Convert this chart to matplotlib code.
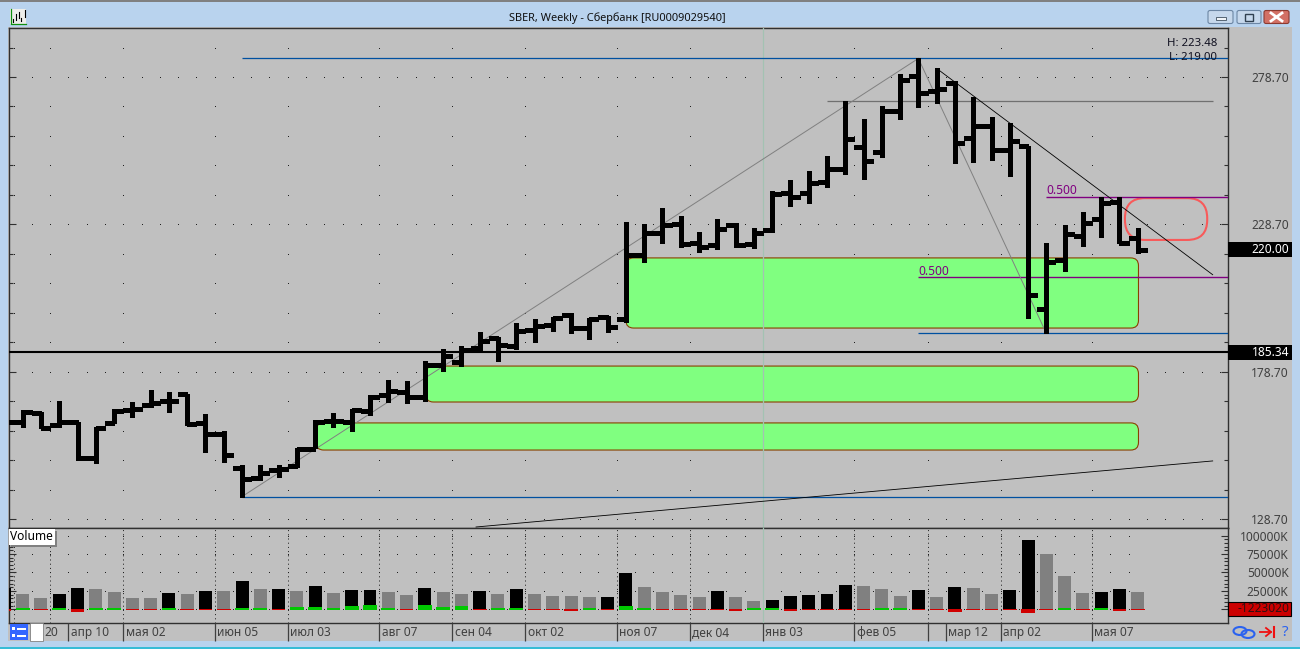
import numpy as np
import matplotlib
matplotlib.use("Agg")
import matplotlib.pyplot as plt
from matplotlib.patches import FancyBboxPatch, Rectangle, Ellipse

plt.rcParams['font.family'] = ['Noto Sans', 'DejaVu Sans']

# weekly bars, index = week number
highs = [164.0,165.7,164.9,168.7,161.7,160.0,165.9,168.5,172.5,171.9,171.1,164.2,158.7,147.0,147.0,147.0,
         152.7,162.3,164.8,165.9,170.8,175.9,175.5,182.3,186.3,187.5,192.3,190.4,195.1,196.5,197.4,198.5,
         196.8,197.7,229.4,228.8,234.1,231.5,226.1,230.4,229.0,227.3,239.9,243.7,246.8,251.9,270.6,264.4,
         268.9,279.7,285.0,281.6,277.3,272.0,265.0,263.2,255.4,222.5,228.5,232.8,238.1,238.1,227.3]
lows = [159.6,160.0,159.5,160.0,148.7,147.6,161.2,163.4,166.8,164.9,160.6,151.5,148.1,136.3,141.9,142.8,
        146.2,152.7,159.8,158.7,164.0,168.5,168.2,168.7,179.0,180.7,185.7,182.4,186.3,188.9,192.6,191.7,
        189.9,192.3,195.4,215.8,222.3,220.9,219.2,220.3,221.1,220.8,226.2,235.0,236.0,241.5,245.8,244.1,
        251.7,264.4,268.6,270.0,249.6,249.9,250.5,245.2,197.0,191.7,213.0,221.4,224.5,222.3,219.1]
opens = [162.3,161.5,164.6,160.6,161.7,149.3,161.4,165.7,167.4,168.8,171.1,161.4,157.5,145.9,142.5,145.3,
         146.7,152.5,162.0,161.7,165.4,170.8,171.9,170.2,181.0,181.9,186.6,190.0,187.4,192.8,194.5,197.9,
         193.6,197.1,196.6,218.3,225.9,228.7,222.3,221.8,228.5,221.9,226.8,239.2,239.2,243.1,247.6,255.0,
         253.3,267.3,279.1,274.0,276.6,258.1,262.1,253.9,255.4,199.9,216.6,224.8,230.5,236.4,223.9]
closes = [161.5,164.9,159.7,161.7,149.3,159.7,165.3,166.0,168.0,168.8,160.9,157.5,150.4,142.2,144.2,145.7,
          152.5,161.7,162.0,165.7,170.2,172.2,170.2,181.0,184.0,186.0,189.0,187.8,192.5,194.3,196.8,193.4,
          196.5,194.0,218.3,225.9,228.5,221.9,221.1,227.0,221.7,225.7,238.9,238.1,242.8,247.4,257.6,250.3,
          267.2,277.7,273.4,274.6,256.4,262.1,253.9,257.1,204.7,215.8,225.3,229.0,236.0,222.5,220.0]

# volume in thousands
volume = [28500,20800,15400,20800,29000,27600,23500,15400,15400,22200,20800,24900,24900,38500,27600,27600,
          24900,31700,22200,26300,26300,23500,19500,29000,23500,20800,24900,20800,27600,20800,18100,18100,
          16800,16800,49400,30300,23500,19500,16800,24900,16800,11300,12700,18100,19500,20800,33100,31700,
          27600,18100,26300,16800,30300,29000,20800,26300,94200,75200,45300,22200,23500,27600,23500]
black_weeks = [0,3,4,9,11,13,15,17,19,20,23,26,28,33,34,39,42,43,44,45,46,50,52,55,56,60,61]
# small indicator at the zero line, green above, red below
indicator = [-2260,1360,-900,1360,-3170,1360,1360,-900,-900,1360,-900,-900,-900,1360,1360,-900,
             3170,3170,1360,4080,5400,1360,-900,5400,3170,4080,-900,1360,1360,-900,-900,-2260,
             1360,-900,4080,1360,-900,-900,-900,-900,-2260,1360,1360,-2260,-900,-900,-900,-900,
             1360,1360,-900,-900,-3170,-900,-900,-900,-4530,-900,1360,-900,1360,-2260,-900]

price_labels = [278.70, 228.70, 178.70, 128.70]
volume_labels = [100000, 75000, 50000, 25000]
date_pos = [3.5,6.5,11.5,15.5,20.5,24.5,28.5,33.5,37.5,41.5,46.5,51.5,54.5,59.5]
date_text = ['апр 10','мая 02','июн 05','июл 03','авг 07','сен 04','окт 02','ноя 07','дек 04','янв 03',
             'фев 05','мар 12','апр 02','мая 07']
grid_pos = [0.5,2.5,6.5,11.5,15.5,20.5,24.5,28.5,33.5,37.5,41.5,46.5,50.5,54.5,59.5]

# drawn objects: (first week, last week, low, high)
zones = [(34.0,62.04,193.5,217.3), (23.05,62.04,168.4,180.6), (17.05,62.04,152.1,161.3)]
oval = (61.3,65.8,223.4,237.6)
last_price = 220.00
level_price = 185.34
low_line = 136.3
top_line = 285.0
fib_upper = 238.1
fib_mid = 210.7
fib_low = 191.65

W, H = 1300, 649
fig = plt.figure(figsize=(13, 6.49), dpi=100)


def rect(l, t, r, b):
    return [l/W, 1-b/H, (r-l)/W, (b-t)/H]


# window frame
bg = fig.add_axes([0, 0, 1, 1], zorder=-1)
bg.set_xlim(0, W)
bg.set_ylim(H, 0)
bg.axis('off')
bg.add_patch(Rectangle((0, 0), W, H, color='#b9d3ee', lw=0))
grad = np.linspace(0, 1, 27)[:, None, None]
top_c = np.array([0.60, 0.70, 0.82])[None, None, :]
bot_c = np.array([0.73, 0.83, 0.94])[None, None, :]
bg.imshow(top_c*(1-grad)+bot_c*grad, extent=(0, W, 27, 0), aspect='auto')
bg.set_xlim(0, W)
bg.set_ylim(H, 0)
bg.add_patch(Rectangle((0, 0), W, 1.5, color='#808080', lw=0))
bg.add_patch(Rectangle((0, 647), W, 2, color='#37bcd6', lw=0))
bg.add_patch(Rectangle((8, 27), 1284, 614, color='#c0c0c0', lw=0))

ax = fig.add_axes(rect(8.5, 27.5, 1227.5, 527.5))
axv = fig.add_axes(rect(8.5, 527.5, 1227.5, 622.5))
axd = fig.add_axes(rect(8.5, 622.5, 1227.5, 641))

x_lim = (0.224, 66.91)
weeks = np.arange(len(highs))
for a in (ax, axv, axd):
    a.set_xlim(*x_lim)
    a.set_facecolor('#c0c0c0')
    for s in a.spines.values():
        s.set_color('#303030')
        s.set_linewidth(1.0)

ax.set_ylim(125.81, 295.50)
axv.set_ylim(-17935, 111140)

# grid dots
slots = np.arange(0.5, 67)
tens = np.arange(128.7, 295, 10)
for p in tens:
    is_major = abs((p-128.7) % 50) < 0.01 or abs((p-128.7) % 50-50) < 0.01
    xs = slots if is_major else grid_pos
    ax.plot(xs, [p]*len(xs), ls='', marker='s', ms=0.72, mew=0, color='#202020', zorder=1)
for v in [0]+volume_labels:
    xs = np.arange(0.5, 62)
    axv.plot(xs, [v]*len(xs), ls='', marker='s', ms=0.72, mew=0, color='#202020', zorder=1)
axv.vlines(grid_pos, axv.get_ylim()[0], axv.get_ylim()[1], colors='#202020', lw=0.72,
           linestyles=(0, (1, 3.2)), zorder=1)

# zones
fy = 0.33937*18.28
for z in zones:
    ax.add_patch(FancyBboxPatch((z[0], z[2]), z[1]-z[0], z[3]-z[2],
                                boxstyle='round,pad=0,rounding_size=0.42', mutation_aspect=fy,
                                fc='#80ff80', ec='#8a4000', lw=0.8, zorder=2))
ax.add_patch(FancyBboxPatch((oval[0], oval[2]), oval[1]-oval[0], oval[3]-oval[2],
                            boxstyle='round,pad=0,rounding_size=1.1', mutation_aspect=fy,
                            fc='none', ec='#f85a5a', lw=1.5, zorder=3))

# light cursor line
for a in (ax, axv):
    a.axvline(41.5, color='#a3c2b2', lw=0.9, zorder=3)

# horizontal levels
ax.axhline(level_price, color='black', lw=1.5, zorder=3)
ax.hlines(top_line, 13, x_lim[1], color='#0050a0', lw=0.9, zorder=3)
ax.hlines(low_line, 13, x_lim[1], color='#0050a0', lw=0.9, zorder=3)
ax.hlines(fib_low, 50, x_lim[1], color='#0050a0', lw=0.9, zorder=3)
ax.hlines(fib_upper, 57, x_lim[1], color='#800080', lw=1.0, zorder=3)
ax.hlines(fib_mid, 50, x_lim[1], color='#800080', lw=1.0, zorder=3)
ax.hlines(270.6, 45, 66.1, color='#707070', lw=0.9, zorder=3)
ax.text(57, fib_upper+0.8, '0.500', color='#800080', fontsize=8.6, va='baseline', ha='left', zorder=3)
ax.text(50, fib_mid+0.8, '0.500', color='#800080', fontsize=8.6, va='baseline', ha='left', zorder=3)

# trend lines
ax.plot([13, 50], [lows[13], highs[50]], color='#808080', lw=0.7, zorder=3)
ax.plot([50, 57], [highs[50], lows[57]], color='#808080', lw=0.7, zorder=3)
ax.plot([51, 66.1], [highs[51], 211.6], color='black', lw=0.6, zorder=3)
ax.plot([25.8, 66.1], [125.98, 148.4], color='black', lw=0.6, zorder=3)

# price bars
ax.vlines(weeks, lows, highs, colors='black', lw=2.2, antialiased=False, zorder=4)
ax.hlines(opens, weeks-0.5, weeks, colors='black', lw=2.2, antialiased=False, zorder=4)
ax.hlines(closes, weeks, weeks+0.5, colors='black', lw=2.2, antialiased=False, zorder=4)

# volume
vol_col = ['black' if i in black_weeks else '#808080' for i in weeks]
axv.bar(weeks, volume, width=0.71, color=vol_col, zorder=3)
for i, v in enumerate(indicator):
    if v > 0:
        axv.bar(i, v+900, bottom=-900, width=0.75, color='#00c800', lw=0, zorder=4)
    else:
        axv.bar(i, v-450, bottom=450, width=0.75, color='#d00000', lw=0, zorder=4)

# axes ticks
ax.set_yticks(price_labels, labels=['%.2f' % p for p in price_labels], ha='right')
ax.set_yticks(tens, minor=True)
ax.tick_params(axis='y', which='major', direction='in', left=True, right=True, labelleft=False,
               labelright=True, length=5, width=0.8, color='#303030', pad=44, labelsize=8.6,
               labelcolor='#404040')
ax.tick_params(axis='y', which='minor', direction='in', left=True, right=True, length=3, width=0.8,
               color='#303030')
ax.set_xticks([])

axv.set_yticks([0]+volume_labels, labels=['']+['%dK' % v for v in volume_labels], ha='right')
axv.set_yticks(np.arange(0, 100001, 5000), minor=True)
axv.tick_params(axis='y', which='major', direction='in', left=True, right=True, labelleft=False,
                labelright=True, length=5, width=0.8, color='#303030', pad=44, labelsize=8.6,
                labelcolor='#404040')
axv.tick_params(axis='y', which='minor', direction='in', left=True, right=True, length=3, width=0.8,
                color='#303030')
axv.set_xticks([])

# date strip
axd.set_ylim(0, 1)
axd.axis('off')
axd.vlines(date_pos+[50.5], 0, 1, colors='#404040', lw=0.9, clip_on=False)
for d, t in zip(date_pos, date_text):
    axd.text(d+0.13, 0.47, t, fontsize=8.6, color='#404040', va='center', ha='left')
axd.text(2.17, 0.47, '20', fontsize=8.6, color='#404040', va='center', ha='left')

# overlay, in pixels
top = fig.add_axes([0, 0, 1, 1], zorder=10)
top.set_xlim(0, W)
top.set_ylim(H, 0)
top.axis('off')
top.patch.set_alpha(0)

top.text(617, 18, 'SBER, Weekly - Сбербанк [RU0009029540]', fontsize=7.9, color='#101010',
         ha='center', va='center')
top.text(1217, 43, 'H: 223.48', fontsize=8.2, color='#101020', ha='right', va='center')
top.text(1217, 57, 'L: 219.00', fontsize=8.2, color='#101020', ha='right', va='center')


def price_y(p):
    return H-ax.transData.transform((1, p))[1]


for p in (last_price, level_price):
    y = price_y(p)
    top.add_patch(Rectangle((1228, y-7.5), 64, 15, color='black', lw=0))
    top.text(1289, y, '%.2f' % p, fontsize=8.6, color='white', ha='right', va='center')

top.add_patch(Rectangle((1228, 602), 63, 14, fc='#cc0000', ec='black', lw=0.8))
top.text(1289, 609, '-1223020', fontsize=8.6, color='#301010', ha='right', va='center')

# Volume caption
top.add_patch(Rectangle((11, 531), 46, 16, color='#808080', lw=0))
top.add_patch(Rectangle((9, 529), 46, 16, color='white', lw=0))
top.text(10.5, 537, 'Volume', fontsize=8.6, color='black', ha='left', va='center')

# left-bottom buttons
top.add_patch(Rectangle((10, 624), 18, 16, color='#3366ff', lw=0))
for yy in (628, 635):
    top.add_patch(Rectangle((12, yy-1), 3, 3, color='white', lw=0))
    top.add_patch(Rectangle((17, yy), 9, 1.5, color='white', lw=0))
top.add_patch(Rectangle((30, 622.5), 13, 18, fc='white', ec='#808080', lw=0.6))

# right-bottom icons
top.add_patch(Ellipse((1240, 631), 13, 8, fc='none', ec='#2a62f0', lw=1.5))
top.add_patch(Ellipse((1248, 634), 13, 8, fc='none', ec='#2a62f0', lw=1.5))
top.plot([1260, 1271], [632, 632], color='#f01010', lw=1.3)
top.plot([1266, 1271, 1266], [628, 632, 636], color='#f01010', lw=1.3)
top.plot([1273.5, 1273.5], [627, 637], color='#f01010', lw=1.5)
top.text(1285, 632, '?', fontsize=11, fontweight='bold', color='#2a62f0', ha='center', va='center')

# title bar icon
top.add_patch(Rectangle((10, 9), 16, 15, color='#eeeeea', lw=0))
top.plot([10.5, 10.5, 26], [9, 23.5, 23.5], color='#109010', lw=0.9)
for xx, y0, y1 in ((13, 19, 22), (16, 14, 20), (19, 12, 18), (21, 18, 21), (24.5, 10, 17)):
    top.plot([xx, xx], [y0, y1], color='black', lw=0.8)

# window buttons
for l, r, c, e in ((1208, 1233, '#c6d8ec', '#6c86a4'), (1237, 1261, '#c6d8ec', '#6c86a4'),
                   (1264, 1289, '#d27065', '#8c3a30')):
    top.add_patch(FancyBboxPatch((l, 10.5), r-l, 13, boxstyle='round,pad=0,rounding_size=2',
                                 fc=c, ec=e, lw=0.8))
top.add_patch(Rectangle((1216, 17), 10, 3, fc='#f0f4f8', ec='#405060', lw=0.6))
top.add_patch(Rectangle((1245, 13.5), 8, 7, fc='none', ec='#304050', lw=1.0))
top.plot([1271, 1282], [13, 21], color='white', lw=2)
top.plot([1271, 1282], [21, 13], color='white', lw=2)

fig.savefig('out.png', dpi=100)
